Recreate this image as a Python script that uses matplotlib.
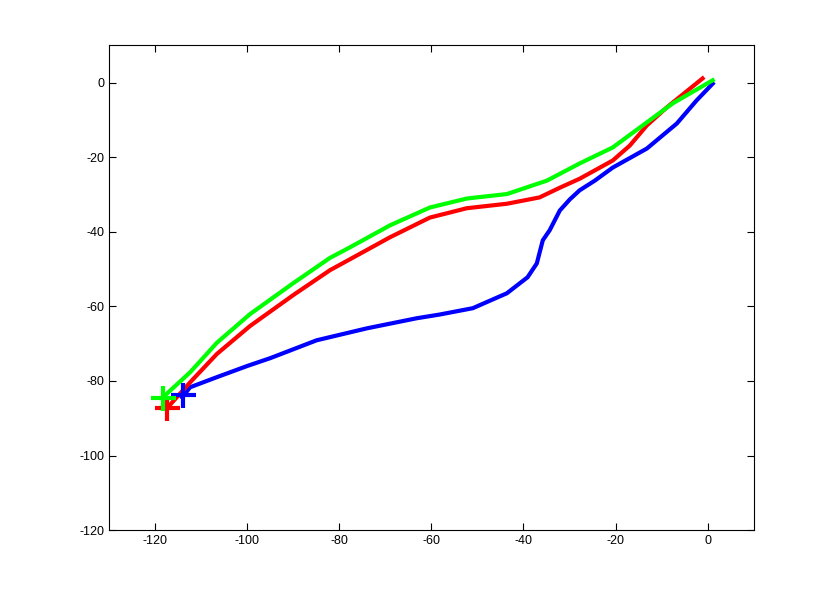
import numpy as np
import matplotlib
matplotlib.use('Agg')
from matplotlib import pyplot as plt

# curve points
blue_x = [-114.1, -112.4, -106.6, -100.0, -95.0, -84.9, -74.0, -63.2, -58.2, -51.0, -43.6, -39.1, -37.1, -35.8,
          -34.3, -32.1, -29.9, -27.8, -24.5, -20.6, -13.2, -6.7, -2.4, 1.1]
blue_y = [-84.4, -81.7, -79.0, -76.0, -73.9, -69.1, -65.9, -63.2, -62.2, -60.5, -56.5, -52.2, -48.5, -42.3,
          -39.6, -34.3, -31.3, -28.9, -26.3, -22.8, -17.7, -11.0, -4.8, -0.3]

red_x = [-117.4, -112.4, -106.6, -99.4, -90.0, -82.0, -77.7, -69.0, -60.3, -52.3, -43.6, -36.5, -32.1, -27.8,
         -20.6, -16.9, -13.2, -8.9, -1.1]
red_y = [-87.3, -80.4, -72.8, -65.3, -57.0, -50.3, -47.4, -41.5, -36.2, -33.7, -32.5, -30.8, -28.2, -25.8,
         -20.9, -16.9, -11.5, -6.7, 1.1]

green_x = [-118.3, -112.4, -106.6, -99.4, -90.0, -82.0, -77.7, -69.0, -60.3, -52.3, -43.6, -34.9, -27.8,
           -20.6, -14.1, -7.6, 1.1]
green_y = [-84.4, -77.7, -69.8, -62.1, -53.8, -47.0, -44.2, -38.3, -33.5, -31.1, -29.9, -26.3, -21.7,
           -17.4, -11.5, -5.6, 0.6]

# start markers
start_x = [-113.9, -117.4, -118.3]
start_y = [-83.8, -87.3, -84.6]

plt.rcParams['font.family'] = ['Liberation Sans', 'DejaVu Sans']
plt.rcParams['axes.unicode_minus'] = False

fig = plt.figure(figsize=(8.34, 5.95), dpi=100)
ax = fig.add_axes([0.1307, 0.109, 0.773, 0.815])

lw = 3
colors = ['#0000ff', '#ff0000', '#00ff00']
for (xs, ys), c in zip([(blue_x, blue_y), (red_x, red_y), (green_x, green_y)], colors):
    ax.plot(xs, ys, color=c, lw=lw, solid_joinstyle='round')

for sx, sy, c in zip(start_x, start_y, colors):
    ax.plot(sx, sy, marker='+', color=c, ms=18, mew=3)

ax.set_xlim(-130, 10)
ax.set_ylim(-120, 10)
ax.set_xticks(np.arange(-120, 1, 20))
ax.set_yticks(np.arange(-120, 1, 20))
ax.tick_params(direction='in', top=True, right=True, labelsize=9, length=5, width=0.8)
for s in ax.spines.values():
    s.set_linewidth(0.8)

fig.savefig('out.png', dpi=100)
